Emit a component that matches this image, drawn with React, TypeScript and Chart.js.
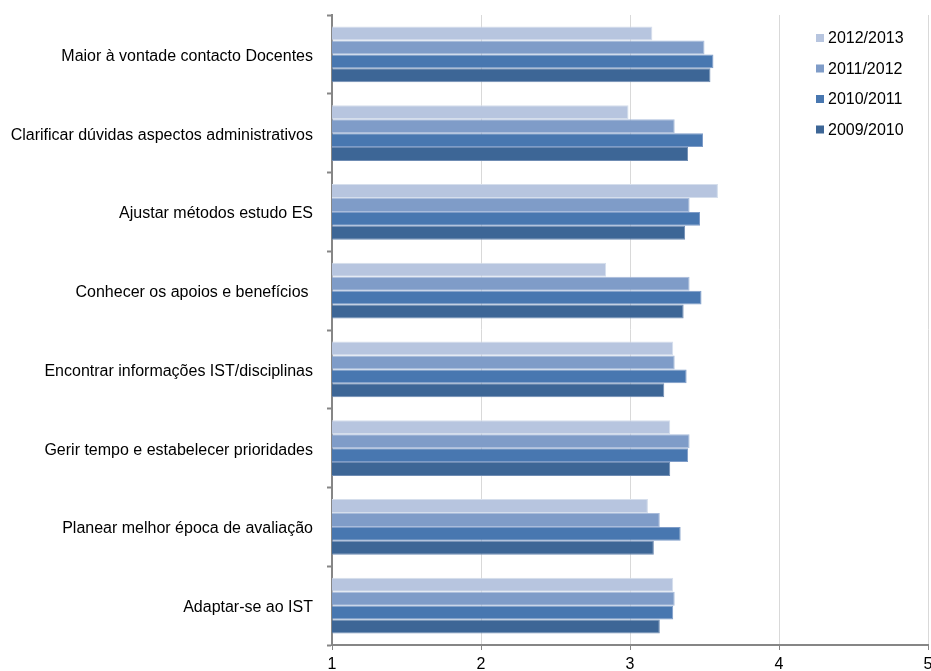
import React, { useEffect, useRef } from "react";
import { Chart, registerables } from "chart.js";

Chart.register(...registerables);

const categories = [
  "Maior à vontade contacto Docentes",
  "Clarificar dúvidas aspectos administrativos",
  "Ajustar métodos estudo ES",
  "Conhecer os apoios e benefícios ",
  "Encontrar informações IST/disciplinas",
  "Gerir tempo e estabelecer prioridades",
  "Planear melhor época de avaliação",
  "Adaptar-se ao IST",
];

const seriesLabels = ["2012/2013", "2011/2012", "2010/2011", "2009/2010"];

const values2012_2013 = [3.15, 2.99, 3.59, 2.84, 3.29, 3.27, 3.12, 3.29];
const values2011_2012 = [3.5, 3.3, 3.4, 3.4, 3.3, 3.4, 3.2, 3.3];
const values2010_2011 = [3.56, 3.49, 3.47, 3.48, 3.38, 3.39, 3.34, 3.29];
const values2009_2010 = [3.54, 3.39, 3.37, 3.36, 3.23, 3.27, 3.16, 3.2];

const xTicks = [1, 2, 3, 4, 5];

const fillColors = ["#B7C5DF", "#7F9CC8", "#4877B0", "#3D6696"];
const borderColors = ["#D5DEEC", "#A9BCDB", "#7E9CC8", "#6F8CB3"];

const FONT = "'Liberation Sans', Arial, sans-serif";

const legendPlugin = {
  id: "customLegend",
  afterDraw(chart: any) {
    const ctx = chart.ctx;
    ctx.save();
    ctx.font = `16px ${FONT}`;
    ctx.textBaseline = "middle";
    ctx.textAlign = "left";
    chart.data.datasets.forEach((ds: any, i: number) => {
      const cy = 38 + i * 30.5;
      ctx.fillStyle = ds.backgroundColor;
      ctx.fillRect(816, cy - 4, 8, 8);
      ctx.fillStyle = "#000";
      ctx.fillText(ds.label, 828, cy + 1);
    });
    ctx.restore();
  },
};

export default function App() {
  const ref = useRef<HTMLCanvasElement | null>(null);

  useEffect(() => {
    if (!ref.current) return;
    const allValues = [values2012_2013, values2011_2012, values2010_2011, values2009_2010];
    const chart = new Chart(ref.current, {
      type: "bar",
      data: {
        labels: categories,
        datasets: seriesLabels.map((label, i) => ({
          label,
          data: allValues[i],
          backgroundColor: fillColors[i],
          borderColor: borderColors[i],
          borderWidth: 1,
          categoryPercentage: 0.71,
          barPercentage: 1.0,
        })),
      },
      options: {
        indexAxis: "y",
        animation: false,
        responsive: true,
        maintainAspectRatio: false,
        layout: { padding: { top: 15, left: 0, right: 3, bottom: 0 } },
        plugins: {
          legend: { display: false },
          tooltip: { enabled: false },
        },
        scales: {
          x: {
            type: "linear",
            min: 1,
            max: 5,
            afterBuildTicks: (scale: any) => {
              scale.ticks = xTicks.map((v) => ({ value: v }));
            },
            afterFit: (scale: any) => {
              scale.height = 26;
              scale.paddingLeft = 0;
              scale.paddingRight = 0;
            },
            ticks: {
              color: "#000",
              font: { family: FONT, size: 16 },
              padding: 5,
            },
            grid: {
              color: "#D9D9D9",
              lineWidth: 1,
              drawTicks: true,
              tickLength: 5,
              tickColor: "#868686",
            },
            border: { color: "#868686", width: 2 },
          },
          y: {
            type: "category",
            afterFit: (scale: any) => {
              scale.width = 332;
              scale.paddingTop = 0;
              scale.paddingBottom = 0;
            },
            ticks: {
              color: "#000",
              font: { family: FONT, size: 16 },
              padding: 14,
              labelOffset: 2,
              autoSkip: false,
            },
            grid: {
              offset: true,
              drawOnChartArea: false,
              drawTicks: true,
              tickLength: 5,
              tickColor: "#868686",
              tickWidth: 2,
            },
            border: { color: "#868686", width: 2 },
          },
        },
      },
      plugins: [legendPlugin],
    } as any);
    return () => chart.destroy();
  }, []);

  return (
    <div style={{ position: "fixed", left: 0, top: 0, width: 931, height: 671, overflow: "hidden", background: "#fff" }}>
      <div style={{ position: "relative", width: 931, height: 671 }}>
        <canvas ref={ref} />
      </div>
    </div>
  );
}
